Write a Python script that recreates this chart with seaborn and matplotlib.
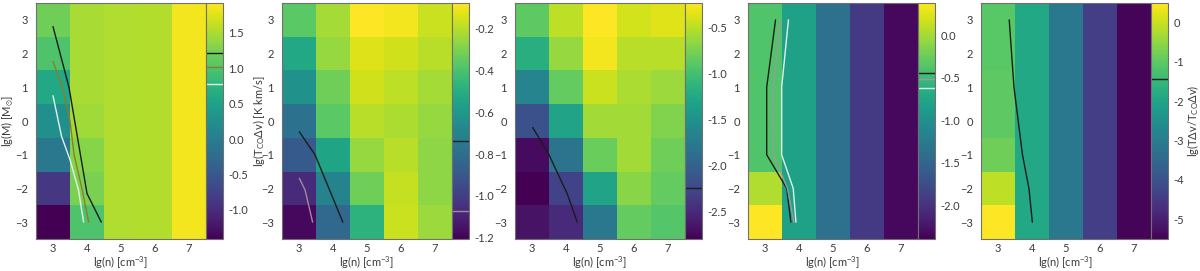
import numpy as np
import pandas as pd
import matplotlib
matplotlib.use("Agg")
import matplotlib.pyplot as plt
from matplotlib.ticker import MultipleLocator, AutoMinorLocator, FormatStrFormatter
import seaborn as sns

# grid axes
n_vals = [3, 4, 5, 6, 7]
m_vals = [3, 2, 1, 0, -1, -2, -3]

# cell values, one list per density column (rows M = 3 ... -3)
p1_cols = {
    3: [1.19, 0.99, 0.59, 0.25, -0.08, -0.88, -1.41],
    4: [1.49, 1.49, 1.49, 1.45, 1.32, 1.25, 0.99],
    5: [1.52, 1.52, 1.52, 1.52, 1.52, 1.52, 1.52],
    6: [1.54, 1.54, 1.54, 1.54, 1.54, 1.54, 1.54],
    7: [1.86, 1.86, 1.86, 1.86, 1.86, 1.86, 1.86],
}
p2_cols = {
    3: [-0.37, -0.53, -0.64, -0.78, -0.89, -1.07, -1.18],
    4: [-0.23, -0.26, -0.33, -0.37, -0.55, -0.70, -0.83],
    5: [-0.08, -0.14, -0.16, -0.20, -0.26, -0.33, -0.48],
    6: [-0.10, -0.16, -0.19, -0.22, -0.20, -0.18, -0.17],
    7: [-0.17, -0.20, -0.23, -0.26, -0.27, -0.27, -0.25],
}
p3_cols = {
    3: [-0.87, -1.18, -1.64, -2.16, -2.72, -2.80, -2.67],
    4: [-0.49, -0.64, -0.85, -1.31, -1.82, -2.29, -2.49],
    5: [-0.23, -0.28, -0.44, -0.59, -0.82, -1.31, -1.77],
    6: [-0.41, -0.51, -0.56, -0.59, -0.59, -0.69, -0.85],
    7: [-0.36, -0.51, -0.62, -0.72, -0.80, -0.85, -0.92],
}
p4_cols = {
    3: [-0.39, -0.39, -0.39, -0.39, -0.39, 0.05, 0.38],
    4: [-0.81, -0.81, -0.81, -0.81, -0.81, -0.81, -0.81],
    5: [-1.37, -1.37, -1.37, -1.37, -1.37, -1.37, -1.37],
    6: [-1.93, -1.93, -1.93, -1.93, -1.93, -1.93, -1.93],
    7: [-2.34, -2.34, -2.34, -2.34, -2.34, -2.34, -2.34],
}
p5_cols = {
    3: [-1.05, -1.05, -1.00, -1.00, -0.82, -0.10, 0.50],
    4: [-1.90, -1.90, -1.90, -1.90, -1.90, -1.90, -1.90],
    5: [-3.10, -3.10, -3.10, -3.10, -3.10, -3.10, -3.10],
    6: [-4.42, -4.42, -4.42, -4.42, -4.42, -4.42, -4.42],
    7: [-5.44, -5.44, -5.44, -5.44, -5.44, -5.44, -5.44],
}

# colour limits
p1_lim = (-1.41, 1.92)
p2_lim = (-1.205, -0.08)
p3_lim = (-2.80, -0.23)
p4_lim = (-2.40, 0.38)
p5_lim = (-5.50, 0.50)

# colorbar ticks
p1_cticks = [-1.0, -0.5, 0.0, 0.5, 1.0, 1.5]
p2_cticks = [-1.2, -1.0, -0.8, -0.6, -0.4, -0.2]
p3_cticks = [-2.5, -2.0, -1.5, -1.0, -0.5]
p4_cticks = [-2.0, -1.5, -1.0, -0.5, 0.0]
p5_cticks = [-5, -4, -3, -2, -1, 0]

# contour lines: (n, M) vertices, colour, colorbar level
p1_lines = [
    ([3.0, 3.47, 4.0, 4.42], [2.8, 1.0, -2.15, -3.0], "#1c1c1c", 1.22),
    ([3.0, 3.28, 3.5, 3.62, 3.85, 4.05], [1.77, 1.0, 0.0, -1.0, -2.0, -3.0], "#8c7d2c", 1.02),
    ([3.0, 3.25, 3.5, 3.75, 3.9], [0.75, -0.45, -1.15, -2.05, -3.0], "#dff2ee", 0.78),
]
p2_lines = [
    ([3.01, 3.47, 4.29], [-0.32, -1.0, -3.0], "#1c1c1c", -0.74),
    ([3.01, 3.18, 3.40], [-1.70, -2.05, -3.0], "#a08a95", -1.07),
]
p3_lines = [
    ([3.02, 3.5, 4.04, 4.33], [-0.19, -1.0, -2.17, -3.0], "#1c1c1c", -2.25),
]
p4_lines = [
    ([3.31, 3.05, 3.05, 3.64, 3.76], [3.0, 1.0, -1.0, -2.0, -3.0], "#1c1c1c", -0.44),
    ([3.46, 3.24, 3.25, 3.66, 3.85], [3.0, 1.0, -1.0, -2.0, -3.0], "#9a9a9a", -0.52),
    ([3.69, 3.49, 3.49, 3.83, 3.91], [3.0, 1.0, -1.0, -2.0, -3.0], "#dff2ee", -0.62),
]
p5_lines = [
    ([3.33, 3.47, 3.72, 3.91, 4.01], [3.0, 1.0, -1.0, -2.0, -3.0], "#1c1c1c", -1.43),
]

panels = [
    (p1_cols, p1_lim, p1_cticks, "%.1f", p1_lines),
    (p2_cols, p2_lim, p2_cticks, "%.1f", p2_lines),
    (p3_cols, p3_lim, p3_cticks, "%.1f", p3_lines),
    (p4_cols, p4_lim, p4_cticks, "%.1f", p4_lines),
    (p5_cols, p5_lim, p5_cticks, "%d", p5_lines),
]
lefts = [36, 282, 515, 748, 981]  # pixel left edge of each map

sns.set_style("ticks")
plt.rcParams["font.family"] = ["Lato", "DejaVu Sans"]
plt.rcParams["mathtext.fontset"] = "custom"
plt.rcParams["mathtext.rm"] = "Lato"
plt.rcParams["mathtext.default"] = "regular"

W, H = 1200, 271
fig = plt.figure(figsize=(12, 2.71), dpi=100)
txt = "#3a3a3a"
edge = "#707070"
fs = 8

for i, (cols, lim, cticks, fmt, lines) in enumerate(panels):
    left = lefts[i]
    ax = fig.add_axes([left / W, 32 / H, 170 / W, 236 / H])
    cax = fig.add_axes([(left + 170) / W, 32 / H, 17 / W, 236 / H])
    df = pd.DataFrame(cols, index=m_vals)[n_vals]
    sns.heatmap(df, ax=ax, cmap="viridis", vmin=lim[0], vmax=lim[1],
                cbar_ax=cax, xticklabels=False, yticklabels=False)

    # overlay lines in heatmap index coordinates
    for xs, ys, col, lev in lines:
        ax.plot(np.array(xs) - 2.5, 3.5 - np.array(ys), color=col, lw=1.0)
        cax.axhline(lev, color=col, lw=1.0)

    ax.set_xticks(np.array(n_vals) - 2.5)
    ax.set_xticklabels([str(v) for v in n_vals])
    ax.set_yticks(3.5 - np.array(m_vals))
    ax.set_yticklabels([str(v).replace("-", "\u2212") for v in m_vals])
    ax.xaxis.set_minor_locator(MultipleLocator(0.1))
    ax.yaxis.set_minor_locator(MultipleLocator(0.1))
    ax.tick_params(which="both", direction="in", top=True, right=True,
                   color=edge, labelcolor=txt, labelsize=fs, width=0.6)
    ax.tick_params(which="major", length=4, pad=3)
    ax.tick_params(which="minor", length=2)
    ax.tick_params(axis="x", labelrotation=0)
    ax.tick_params(axis="y", labelrotation=0, pad=6)
    for sp in ax.spines.values():
        sp.set_visible(True)
        sp.set_color(edge)
        sp.set_linewidth(0.8)
    ax.set_xlabel("lg(n) [cm$^{-3}$]", color=txt, fontsize=fs)
    ax.xaxis.set_label_coords(0.5, -0.068)
    ax.set_ylabel("")

    cbar = ax.collections[0].colorbar
    cbar.set_ticks(cticks)
    cbar.ax.yaxis.set_major_formatter(FormatStrFormatter(fmt))
    cbar.ax.yaxis.set_minor_locator(AutoMinorLocator(5))
    cbar.ax.tick_params(which="both", direction="in", left=True, right=True,
                        color="#303030", labelcolor=txt, labelsize=fs, width=0.6)
    cbar.ax.tick_params(which="major", length=4, pad=4)
    cbar.ax.tick_params(which="minor", length=2)
    cbar.outline.set_visible(True)
    cbar.outline.set_edgecolor(edge)
    cbar.outline.set_linewidth(0.8)

    if i == 0:
        ax.set_ylabel("lg(M) [M$_{\\odot}$]", color=txt, fontsize=fs)
        ax.yaxis.set_label_coords(-0.115, 0.5)
        cbar.set_label("lg(T$_{CO}$\u0394v) [K km/s]", color=txt, fontsize=fs)
        cbar.ax.yaxis.set_label_coords(2.62, 0.5)
    if i == 4:
        cbar.set_label("lg(T\u0394v/T$_{CO}$\u0394v)", color=txt, fontsize=fs)
        cbar.ax.yaxis.set_label_coords(2.0, 0.5)

fig.savefig("out.png", dpi=100)
